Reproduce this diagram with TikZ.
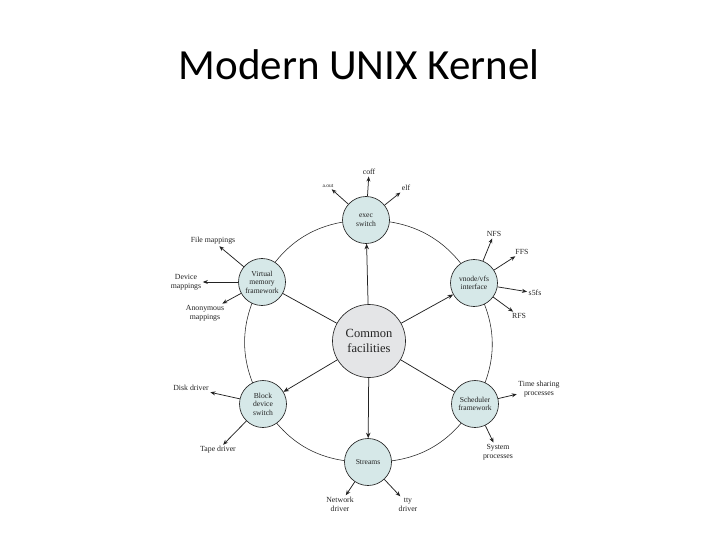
\documentclass[tikz,border=0pt]{standalone}
\usepackage{fontspec}
\setmainfont{Liberation Serif}
\newfontfamily\titlefont{Carlito}
\usetikzlibrary{arrows.meta,backgrounds}
\definecolor{nodefill}{RGB}{214,232,232}
\definecolor{cfill}{RGB}{228,229,231}
\definecolor{ink}{RGB}{35,35,35}
\begin{document}
\begin{tikzpicture}[x=1pt,y=-1pt,
  sub/.style={circle,draw=ink,line width=0.65pt,fill=nodefill,minimum size=47pt,inner sep=0pt,align=center,font=\fontsize{7.6}{8.6}\selectfont,text=ink},
  core/.style={circle,draw=ink,line width=0.65pt,fill=cfill,minimum size=73pt,inner sep=0pt,align=center,font=\fontsize{12.5}{15}\selectfont,text=ink},
  lab/.style={inner sep=1.5pt,align=center,font=\fontsize{7.8}{8.6}\selectfont,text=ink},
  ringline/.style={draw=ink,line width=0.55pt},
  radarrow/.style={draw=ink,line width=0.75pt,-{Stealth[length=5.5pt,width=4.5pt]}},
  radplain/.style={draw=ink,line width=0.75pt},
  outarrow/.style={draw=ink,line width=0.75pt,-{Stealth[length=5pt,width=4pt]}}]
\useasboundingbox (0,0) rectangle (720,540);
\node[anchor=base,font=\titlefont\fontsize{43}{50}\selectfont] (title) at (359,80) {Modern UNIX Kernel};

\node[core] (C) at (369,341) {Common\\facilities};
\node[sub] (exec) at (366,220) {exec\\switch};
\node[sub] (vm) at (262,282) {Virtual\\memory\\framework};
\node[sub] (vfs) at (474,283) {vnode/vfs\\interface};
\node[sub] (blk) at (263,404) {Block\\device\\switch};
\node[sub] (sch) at (475,404) {Scheduler\\framework};
\node[sub] (str) at (368,462) {Streams};

% ring arcs (behind the nodes, centre to centre)
\begin{scope}[on background layer]
\fill[white] (0,0) rectangle (720,540);
\draw[ringline] (exec.center) to[bend right=30] (vm.center);
\draw[ringline] (vm.center) to[bend right=30] (blk.center);
\draw[ringline] (blk.center) to[bend right=30] (str.center);
\draw[ringline] (str.center) to[bend right=30] (sch.center);
\draw[ringline] (sch.center) to[bend right=30] (vfs.center);
\draw[ringline] (vfs.center) to[bend right=30] (exec.center);
\end{scope}

% radial
\draw[radarrow] (C) -- (exec);
\draw[radarrow] (C) -- (vfs);
\draw[radarrow] (C) -- (blk);
\draw[radarrow] (C) -- (str);
\draw[radplain] (C) -- (vm);
\draw[radplain] (C) -- (sch);

% labels
\node[lab] (coff) at (369,172) {coff};
\node[lab,font=\fontsize{5.5}{6.5}\selectfont] (aout) at (328,186) {a.out};
\node[lab] (elf) at (406,188) {elf};
\node[lab] (filem) at (213,241) {File mappings};
\node[lab] (devm) at (186,282) {Device\\mappings};
\node[lab] (anon) at (205,313) {Anonymous\\mappings};
\node[lab] (nfs) at (494,234) {NFS};
\node[lab] (ffs) at (522,252) {FFS};
\node[lab] (s5fs) at (535,293) {s5fs};
\node[lab] (rfs) at (519,316) {RFS};
\node[lab] (disk) at (191,388) {Disk driver};
\node[lab] (tape) at (218,450) {Tape driver};
\node[lab] (tsp) at (539,389) {Time sharing\\processes};
\node[lab] (sysp) at (498,452) {System\\processes};
\node[lab,anchor=base] (net) at (340,511) {Network\\driver};
\node[lab,anchor=base] (tty) at (408,511) {tty\\driver};

% outgoing arrows
\draw[outarrow] (exec) -- (coff);
\draw[outarrow] (exec) -- (aout);
\draw[outarrow] (exec) -- (elf);
\draw[outarrow] (vm) -- (filem);
\draw[outarrow] (vm) -- (devm);
\draw[outarrow] (vm) -- (anon);
\draw[outarrow] (vfs) -- (nfs);
\draw[outarrow] (vfs) -- (ffs);
\draw[outarrow] (vfs) -- (s5fs);
\draw[outarrow] (vfs) -- (rfs);
\draw[outarrow] (blk) -- (disk);
\draw[outarrow] (blk) -- (tape);
\draw[outarrow] (sch) -- (tsp);
\draw[outarrow] (sch) -- (sysp);
\draw[outarrow] (str) -- (net);
\draw[outarrow] (str) -- (tty);
\end{tikzpicture}
\end{document}
